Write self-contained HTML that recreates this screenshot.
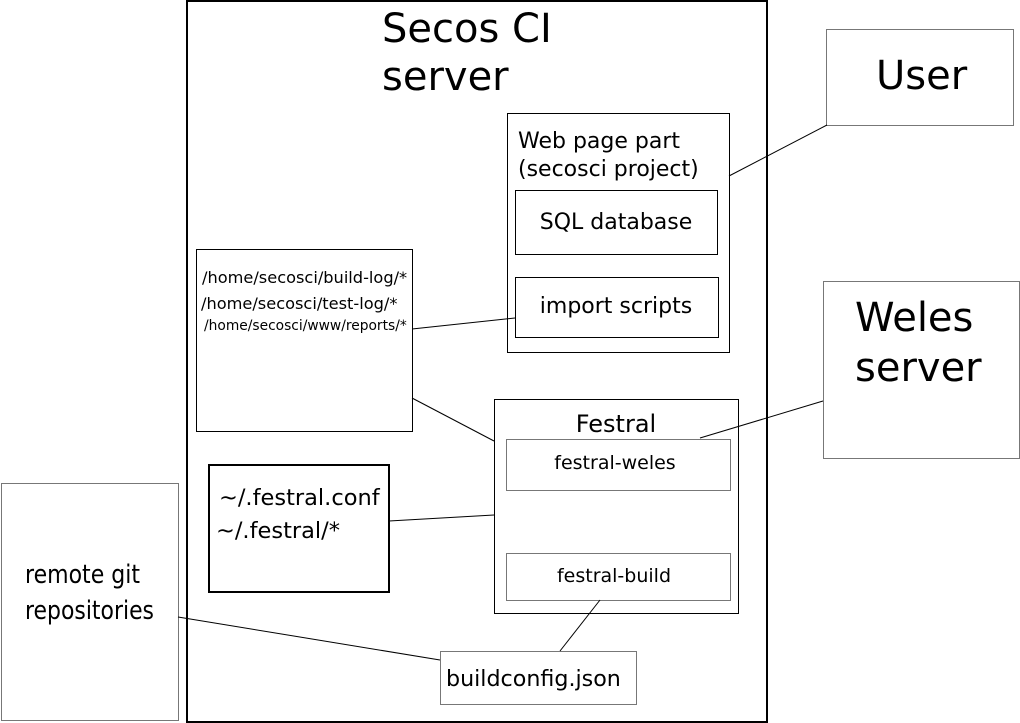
<!DOCTYPE html>
<html><head><meta charset="utf-8"><style>html,body{margin:0;padding:0;background:#fff}svg{display:block}text{font-family:"DejaVu Sans","Liberation Sans",sans-serif;fill:#000}</style></head>
<body>
<svg width="1020" height="723" viewBox="0 0 1020 723" xmlns="http://www.w3.org/2000/svg">
<rect x="0" y="0" width="1020" height="723" fill="#fff"/>
<g fill="none">
<rect x="187" y="1" width="580" height="721" stroke="#000" stroke-width="2"/>
<rect x="826.5" y="29.5" width="187" height="96" stroke="#777" stroke-width="1"/>
<rect x="823.5" y="281.5" width="196" height="177" stroke="#777" stroke-width="1"/>
<rect x="507.5" y="113.5" width="222" height="239" stroke="#000" stroke-width="1"/>
<rect x="515.5" y="190.5" width="202" height="64" stroke="#000" stroke-width="1"/>
<rect x="515.5" y="277.5" width="203" height="60" stroke="#000" stroke-width="1"/>
<rect x="196.5" y="249.5" width="216" height="182" stroke="#000" stroke-width="1"/>
<rect x="494.5" y="399.5" width="244" height="214" stroke="#000" stroke-width="1"/>
<rect x="506.5" y="439.5" width="224" height="51" stroke="#777" stroke-width="1"/>
<rect x="506.5" y="553.5" width="224" height="47" stroke="#777" stroke-width="1"/>
<rect x="209" y="465" width="180" height="127" stroke="#000" stroke-width="2"/>
<rect x="1.5" y="483.5" width="177" height="237" stroke="#777" stroke-width="1"/>
<rect x="440.5" y="651.5" width="196" height="53" stroke="#777" stroke-width="1"/>
<g stroke="#000" stroke-width="1">
<line x1="827" y1="125" x2="729" y2="176"/>
<line x1="515" y1="318" x2="412" y2="329"/>
<line x1="412" y1="398" x2="494" y2="441"/>
<line x1="823" y1="401" x2="700" y2="438"/>
<line x1="389" y1="521" x2="494" y2="515"/>
<line x1="178" y1="617" x2="440" y2="660"/>
<line x1="600" y1="600" x2="560" y2="651"/>
</g>
</g>
<text x="382" y="42" font-size="40">Secos CI</text>
<text x="382" y="90" font-size="40">server</text>
<text x="876" y="89" font-size="40">User</text>
<text x="855" y="331" font-size="40">Weles</text>
<text x="855" y="381" font-size="40">server</text>
<text x="518" y="148" font-size="22">Web page part</text>
<text x="518" y="176" font-size="22">(secosci project)</text>
<text x="616" y="229" font-size="22" text-anchor="middle">SQL database</text>
<text x="616" y="313" font-size="22" text-anchor="middle">import scripts</text>
<text x="202" y="283" font-size="16.2">/home/secosci/build-log/*</text>
<text x="201" y="309" font-size="16.2">/home/secosci/test-log/*</text>
<text x="204" y="330" font-size="13.8">/home/secosci/www/reports/*</text>
<text x="616" y="432" font-size="24" text-anchor="middle">Festral</text>
<text x="615" y="469" font-size="19" text-anchor="middle">festral-weles</text>
<text x="614" y="582" font-size="19" text-anchor="middle">festral-build</text>
<text x="219" y="505" font-size="22.5">~/.festral.conf</text>
<text x="216" y="538" font-size="22.5">~/.festral/*</text>
<text x="25" y="583" font-size="26" textLength="115" lengthAdjust="spacingAndGlyphs">remote git</text>
<text x="25" y="619" font-size="26" textLength="129" lengthAdjust="spacingAndGlyphs">repositories</text>
<text x="446" y="686" font-size="22.2">buildconfig.json</text>
</svg>
</body></html>
